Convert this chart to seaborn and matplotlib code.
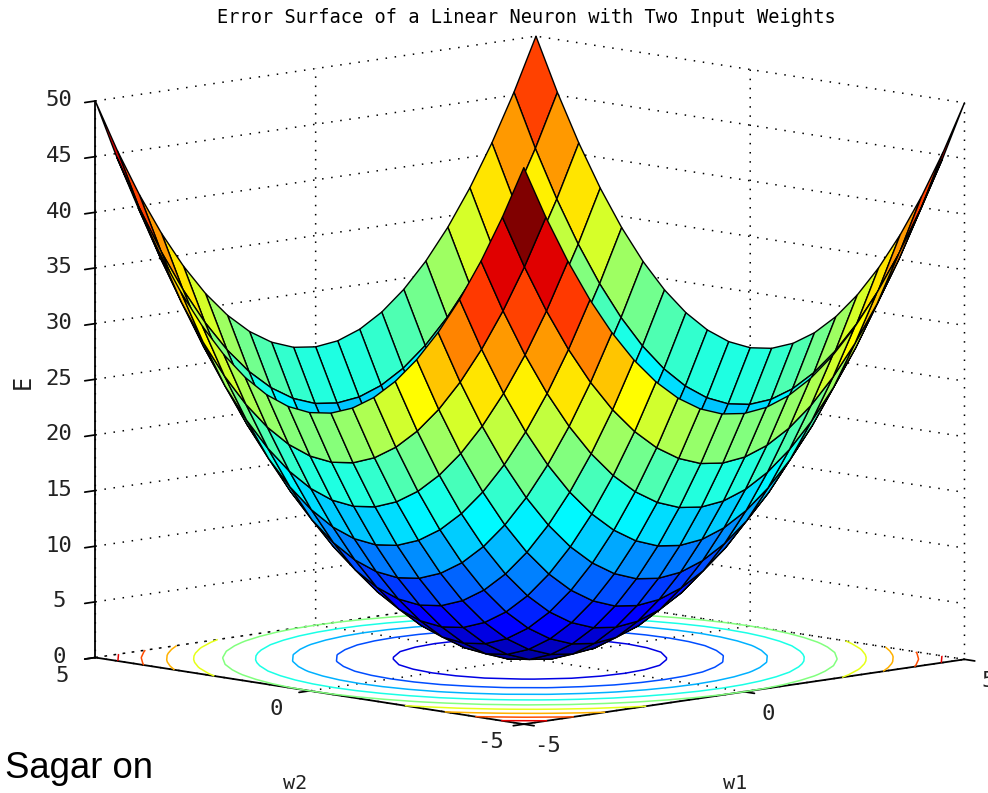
import numpy as np
import seaborn as sns
import matplotlib.pyplot as plt
from matplotlib.colors import Normalize, LinearSegmentedColormap
from mpl_toolkits.mplot3d import proj3d

# Daten
w1 = [-5, -4.5, -4, -3.5, -3, -2.5, -2, -1.5, -1, -0.5, 0, 0.5, 1, 1.5, 2, 2.5, 3, 3.5, 4, 4.5, 5]
w2 = [-5, -4.5, -4, -3.5, -3, -2.5, -2, -1.5, -1, -0.5, 0, 0.5, 1, 1.5, 2, 2.5, 3, 3.5, 4, 4.5, 5]
error = [
    [50, 45.25, 41, 37.25, 34, 31.25, 29, 27.25, 26, 25.25, 25, 25.25, 26, 27.25, 29, 31.25, 34, 37.25, 41, 45.25, 50],
    [45.25, 40.5, 36.25, 32.5, 29.25, 26.5, 24.25, 22.5, 21.25, 20.5, 20.25, 20.5, 21.25, 22.5, 24.25, 26.5, 29.25, 32.5, 36.25, 40.5, 45.25],
    [41, 36.25, 32, 28.25, 25, 22.25, 20, 18.25, 17, 16.25, 16, 16.25, 17, 18.25, 20, 22.25, 25, 28.25, 32, 36.25, 41],
    [37.25, 32.5, 28.25, 24.5, 21.25, 18.5, 16.25, 14.5, 13.25, 12.5, 12.25, 12.5, 13.25, 14.5, 16.25, 18.5, 21.25, 24.5, 28.25, 32.5, 37.25],
    [34, 29.25, 25, 21.25, 18, 15.25, 13, 11.25, 10, 9.25, 9, 9.25, 10, 11.25, 13, 15.25, 18, 21.25, 25, 29.25, 34],
    [31.25, 26.5, 22.25, 18.5, 15.25, 12.5, 10.25, 8.5, 7.25, 6.5, 6.25, 6.5, 7.25, 8.5, 10.25, 12.5, 15.25, 18.5, 22.25, 26.5, 31.25],
    [29, 24.25, 20, 16.25, 13, 10.25, 8, 6.25, 5, 4.25, 4, 4.25, 5, 6.25, 8, 10.25, 13, 16.25, 20, 24.25, 29],
    [27.25, 22.5, 18.25, 14.5, 11.25, 8.5, 6.25, 4.5, 3.25, 2.5, 2.25, 2.5, 3.25, 4.5, 6.25, 8.5, 11.25, 14.5, 18.25, 22.5, 27.25],
    [26, 21.25, 17, 13.25, 10, 7.25, 5, 3.25, 2, 1.25, 1, 1.25, 2, 3.25, 5, 7.25, 10, 13.25, 17, 21.25, 26],
    [25.25, 20.5, 16.25, 12.5, 9.25, 6.5, 4.25, 2.5, 1.25, 0.5, 0.25, 0.5, 1.25, 2.5, 4.25, 6.5, 9.25, 12.5, 16.25, 20.5, 25.25],
    [25, 20.25, 16, 12.25, 9, 6.25, 4, 2.25, 1, 0.25, 0, 0.25, 1, 2.25, 4, 6.25, 9, 12.25, 16, 20.25, 25],
    [25.25, 20.5, 16.25, 12.5, 9.25, 6.5, 4.25, 2.5, 1.25, 0.5, 0.25, 0.5, 1.25, 2.5, 4.25, 6.5, 9.25, 12.5, 16.25, 20.5, 25.25],
    [26, 21.25, 17, 13.25, 10, 7.25, 5, 3.25, 2, 1.25, 1, 1.25, 2, 3.25, 5, 7.25, 10, 13.25, 17, 21.25, 26],
    [27.25, 22.5, 18.25, 14.5, 11.25, 8.5, 6.25, 4.5, 3.25, 2.5, 2.25, 2.5, 3.25, 4.5, 6.25, 8.5, 11.25, 14.5, 18.25, 22.5, 27.25],
    [29, 24.25, 20, 16.25, 13, 10.25, 8, 6.25, 5, 4.25, 4, 4.25, 5, 6.25, 8, 10.25, 13, 16.25, 20, 24.25, 29],
    [31.25, 26.5, 22.25, 18.5, 15.25, 12.5, 10.25, 8.5, 7.25, 6.5, 6.25, 6.5, 7.25, 8.5, 10.25, 12.5, 15.25, 18.5, 22.25, 26.5, 31.25],
    [34, 29.25, 25, 21.25, 18, 15.25, 13, 11.25, 10, 9.25, 9, 9.25, 10, 11.25, 13, 15.25, 18, 21.25, 25, 29.25, 34],
    [37.25, 32.5, 28.25, 24.5, 21.25, 18.5, 16.25, 14.5, 13.25, 12.5, 12.25, 12.5, 13.25, 14.5, 16.25, 18.5, 21.25, 24.5, 28.25, 32.5, 37.25],
    [41, 36.25, 32, 28.25, 25, 22.25, 20, 18.25, 17, 16.25, 16, 16.25, 17, 18.25, 20, 22.25, 25, 28.25, 32, 36.25, 41],
    [45.25, 40.5, 36.25, 32.5, 29.25, 26.5, 24.25, 22.5, 21.25, 20.5, 20.25, 20.5, 21.25, 22.5, 24.25, 26.5, 29.25, 32.5, 36.25, 40.5, 45.25],
    [50, 45.25, 41, 37.25, 34, 31.25, 29, 27.25, 26, 25.25, 25, 25.25, 26, 27.25, 29, 31.25, 34, 37.25, 41, 45.25, 50],
]
contour_levels = [5, 10, 15, 20, 25, 30, 35, 40, 45]
w_ticks = [-5, 0, 5]
e_ticks = [0, 5, 10, 15, 20, 25, 30, 35, 40, 45, 50]

# Stil
sns.set_theme(style="white", rc={"xtick.bottom": True, "ytick.left": True, "xtick.color": "black", "ytick.color": "black"})
plt.rcParams["font.family"] = ["DejaVu Sans Mono"]
plt.rcParams["axes.unicode_minus"] = False
# Matlab-Variante von jet (matplotlib weicht etwas ab)
jet = LinearSegmentedColormap.from_list("matlab_jet", [
    (0, (0, 0, 0.5)), (0.125, (0, 0, 1)), (0.375, (0, 1, 1)),
    (0.625, (1, 1, 0)), (0.875, (1, 0, 0)), (1, (0.5, 0, 0))])
norm = Normalize(0, 50)
text_color = "#222222"

W1, W2 = np.meshgrid(w1, w2)
E = np.array(error)

fig = plt.figure(figsize=(9.88, 7.93), dpi=100)
# Achse groesser als die Figur, sonst schneidet das quadratische 3D-Feld die Flaeche ab
ax = fig.add_axes([-0.0354, -0.1917, 1.1134, 1.3871], projection="3d", computed_zorder=False)
ax.set_proj_type("ortho")
ax.view_init(elev=8.7, azim=-134.2)
ax.set_box_aspect((1, 1, 0.916), zoom=0.914)

ax.contour(W1, W2, E, levels=contour_levels, zdir="z", offset=0, cmap=jet, norm=norm, linewidths=1.1, zorder=1)
ax.plot_surface(W1, W2, E, rstride=1, cstride=1, facecolors=jet(norm(E)), shade=False,
                edgecolor="black", linewidth=1.0, zorder=2)

ax.set_xlim(-5, 5)
ax.set_ylim(-5, 5)
ax.set_zlim(0, 50)
ax.set_xticks(w_ticks)
ax.set_yticks(w_ticks)
ax.set_zticks(e_ticks)
ax.tick_params(labelbottom=False, labelleft=False)
ax.tick_params(axis="z", labelleft=False, labelright=False)

for axis in [ax.xaxis, ax.yaxis, ax.zaxis]:
    axis.set_pane_color((1, 1, 1, 0))
    axis.pane.set_edgecolor("none")
    axis.line.set_color("black")
    axis.line.set_linewidth(1.3)
    axis._axinfo["grid"].update(color="black", linestyle=(0, (1, 5)), linewidth=1.1)
    axis._axinfo["tick"].update(inward_factor=0.3, outward_factor=0.0)
    axis.set_major_formatter(plt.NullFormatter())


def tick_text(x, y, z, s):
    # 3D-Punkt selbst projizieren, die 3D-Automatik legt die Labels zu tief
    px, py, _ = proj3d.proj_transform(x, y, z, ax.get_proj())
    ax.text2D(px, py, s, transform=ax.transData, ha="center", va="center", fontsize=16, color=text_color)


for t in w_ticks:
    tick_text(t, -5.55, -1.65, str(t))
    tick_text(-5.75, t, -1.2, str(t))
for t in e_ticks:
    tick_text(-5.42, 5.42, t + 0.05, str(t))

fig.text(0.533, 0.978, "Error Surface of a Linear Neuron with Two Input Weights", ha="center", va="center", fontsize=13.4, color="black")
fig.text(0.023, 0.518, "E", rotation=90, ha="center", va="center", fontsize=17, color=text_color)
fig.text(0.299, 0.0126, "w2", ha="center", va="center", fontsize=14.5, color=text_color)
fig.text(0.744, 0.0126, "w1", ha="center", va="center", fontsize=14.5, color=text_color)
fig.text(0.005, 0.019, "Sagar on", family="Liberation Sans", fontsize=26.3, color="black", ha="left", va="baseline")

plt.savefig("out.png", dpi=100)
